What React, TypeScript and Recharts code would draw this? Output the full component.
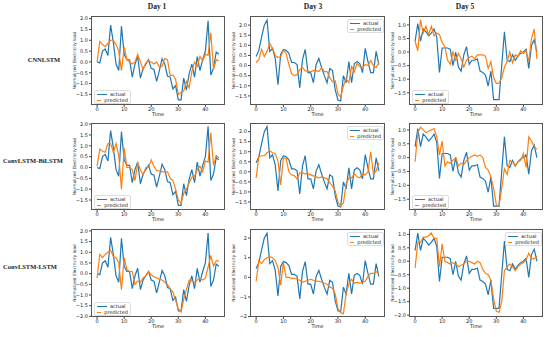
import React from 'react'
import { LineChart, Line, XAxis, YAxis, Label } from 'recharts'

// time index 0..45
const TIME = Array.from({ length: 46 }, (_, i) => i)
const X_TICKS = [0, 10, 20, 30, 40]

const DAYS = ['Day 1', 'Day 3', 'Day 5']
const MODELS = ['CNNLSTM', 'ConvLSTM-BiLSTM', 'ConvLSTM-LSTM']

// actual load (same for every model)
const DAY1_ACTUAL = [0.0, -0.05, 0.5, 0.6, 0.3, 1.7, 0.9, -0.1, -0.4, 1.65, 0.35, 0.1, 0.1, -0.7, -0.1, 0.25, -0.75, -0.3, -0.1, 0.1, -0.3, -0.35, -0.9, -0.4, 0.15, -0.1, -0.65, -0.7, -1.25, -1.1, -1.75, -1.75, -0.75, -1.3, -0.55, -0.1, -0.7, 0.25, -0.4, 0.1, 0.5, 1.9, -0.6, -0.3, 0.45, 0.35]
const DAY3_ACTUAL = [0.45, 0.75, 1.4, 2.0, 2.25, 0.7, 0.85, 0.35, -0.95, 0.55, 0.8, 0.75, 0.6, 0.15, 0.15, 0.05, -1.1, 0.3, 0.8, -0.35, -0.35, -0.85, 0.05, 0.35, -0.1, -0.5, -0.85, -0.15, -0.25, -1.2, -1.7, -1.75, -0.5, -0.85, 0.2, -0.85, 0.1, 0.2, 0.1, -0.35, 0.85, 0.2, -0.35, -0.35, 0.7, 0.05]
const DAY5_ACTUAL = [0.4, 1.05, 0.4, 0.85, 0.75, 0.6, 0.7, 0.85, 0.55, -0.75, 0.15, 0.15, 0.15, 0.1, -0.5, 0.0, -0.55, -0.7, -0.1, 0.2, -0.45, -0.3, -0.3, -0.25, -0.7, -0.75, -0.85, -1.25, -0.7, -1.75, -1.75, -1.75, -0.5, 0.75, -0.3, -0.35, -0.1, -0.3, -0.15, -0.05, 0.0, 0.1, -0.6, 0.25, 0.45, 0.0]

// predictions
const CNN_DAY1 = [0.0, 0.95, 0.8, 0.7, 0.85, 1.0, 1.0, 0.8, 0.5, -0.4, 0.7, 0.1, 0.0, -0.1, 0.0, 0.35, 0.0, -0.35, -0.05, 0.05, 0.0, -0.1, 0.0, -0.25, -0.2, 0.15, 0.1, -0.65, -0.6, -0.8, -1.5, -1.4, -1.35, -0.9, -1.2, -0.45, 0.0, -0.2, 0.25, 0.05, 0.35, 0.3, 1.35, -0.35, 0.1, 0.05]
const CNN_DAY3 = [0.15, 0.3, 0.8, 0.45, 0.7, 1.1, 0.85, 0.5, 0.4, 0.45, 0.75, 0.6, 0.05, -0.4, -0.5, -0.45, -0.2, -0.1, -0.25, -0.3, -0.3, -0.25, -0.25, -0.3, -0.1, -0.3, -0.3, -0.6, -0.8, -0.75, -1.4, -1.55, -1.0, -0.65, -0.85, -0.05, -0.3, 0.1, -0.05, -0.1, 0.05, 0.0, 0.25, 0.0, -0.1, 0.15]
const CNN_DAY5 = [0.4, 0.05, 1.2, 0.7, 0.95, 0.65, 0.95, 0.6, 0.7, 0.65, 0.35, 0.2, -0.3, -0.45, 0.0, -0.3, -0.05, -0.25, -0.55, -0.3, -0.2, -0.15, -0.25, -0.1, -0.1, -0.1, -0.15, -0.6, -0.35, -0.95, -1.15, -1.15, -0.95, -0.55, -0.35, 0.0, -0.4, -0.1, -0.15, 0.05, -0.05, 0.05, -0.35, 0.5, 0.85, -0.25]

const BI_DAY1 = [0.05, 0.85, 0.75, 0.7, 1.1, 1.1, 0.7, 1.1, 0.55, -1.0, 0.9, 0.0, 0.0, -0.1, -0.6, 0.2, -0.1, -0.35, 0.0, 0.0, 0.35, 0.05, -0.15, -0.15, -0.2, -0.2, -0.2, -0.5, -0.6, -1.0, -1.5, -1.65, -1.2, -1.0, -0.7, -0.45, -0.4, -0.1, 0.05, -0.2, 0.3, 0.25, 1.6, 0.1, 0.55, 0.45]
const BI_DAY3 = [-0.3, 0.75, 0.8, 0.8, 0.95, 1.05, 0.95, 0.9, 0.55, -0.65, 0.7, 0.65, 0.0, -0.15, -0.2, -0.35, -0.05, -0.05, -0.1, -0.1, -0.15, -0.2, -0.25, -0.3, -0.25, -0.3, -0.35, -0.55, -0.7, -0.95, -1.5, -1.7, -1.55, -0.6, -0.3, -0.3, -0.1, -0.25, -0.3, -0.1, -0.15, 0.0, 1.0, -0.1, 0.05, 0.45]
const BI_DAY5 = [-0.15, 0.9, 1.1, 1.0, 0.9, 0.95, 1.0, 1.05, 0.75, 0.1, 0.6, -0.3, -0.15, -0.2, -0.1, 0.0, -0.3, -0.2, -0.25, -0.1, 0.0, 0.05, 0.1, 0.05, 0.1, 0.0, -0.35, -0.45, -0.7, -1.1, -1.7, -1.75, -1.1, -0.4, -0.6, -0.1, -0.15, -0.3, -0.15, -0.1, 0.15, -0.35, 0.75, 0.6, 0.4, 0.3]

const LSTM_DAY1 = [-0.2, 0.9, 0.75, 0.9, 1.0, 1.1, 0.8, 0.75, 0.5, -0.75, 0.75, 0.2, 0.1, 0.1, -0.5, -0.35, -0.4, -0.2, -0.1, 0.1, -0.05, -0.15, -0.2, -0.25, -0.3, -0.4, -0.5, -0.7, -0.85, -1.25, -1.65, -1.8, -1.2, -0.75, -0.3, -0.35, -0.4, -0.3, -0.25, -0.3, -0.2, 0.3, 0.85, 0.35, 0.6, 0.6]
const LSTM_DAY3 = [-0.2, 0.85, 0.7, 0.9, 1.0, 1.05, 1.0, 0.85, 0.5, -0.4, 0.75, 0.0, 0.0, -0.05, -0.05, -0.1, -0.15, -0.25, -0.2, -0.15, -0.1, -0.15, -0.2, -0.2, -0.25, -0.3, -0.35, -0.5, -0.55, -0.85, -1.6, -1.8, -1.85, -0.8, -0.35, -0.1, -0.3, -0.25, -0.3, -0.25, -0.2, 0.05, 0.2, 0.2, 0.3, 0.15]
const LSTM_DAY5 = [-0.25, 0.7, 0.7, 0.9, 0.9, 0.95, 1.05, 0.85, 0.85, -0.2, 0.65, 0.0, -0.05, -0.1, -0.05, -0.1, -0.2, -0.15, -0.1, 0.0, 0.0, -0.05, -0.1, 0.0, -0.05, -0.3, -0.45, -0.5, -0.7, -1.4, -1.85, -1.9, -1.5, -0.35, -0.2, -0.1, -0.2, -0.35, -0.2, -0.1, -0.05, 0.05, 0.3, 0.1, 0.1, 0.2]

const ACTUAL = [DAY1_ACTUAL, DAY3_ACTUAL, DAY5_ACTUAL]
const PRED = [
  [CNN_DAY1, CNN_DAY3, CNN_DAY5],
  [BI_DAY1, BI_DAY3, BI_DAY5],
  [LSTM_DAY1, LSTM_DAY3, LSTM_DAY5],
]

const T_HALF = [-1.5, -1, -0.5, 0, 0.5, 1, 1.5, 2]
const T_HALF5 = [-1.5, -1, -0.5, 0, 0.5, 1]

// layout
const COLS = [{ left: 91, width: 134 }, { left: 250, width: 135 }, { left: 409, width: 134 }]
const ROWS = [{ top: 16, height: 89 }, { top: 123, height: 87 }, { top: 229, height: 88 }]
const Y_SETUP = [
  [
    { domain: [-1.99, 2.12], ticks: T_HALF, dec: 1 },
    { domain: [-1.95, 2.45], ticks: T_HALF, dec: 1 },
    { domain: [-1.95, 1.33], ticks: T_HALF5, dec: 1 },
  ],
  [
    { domain: [-1.96, 2.05], ticks: T_HALF, dec: 1 },
    { domain: [-1.9, 2.43], ticks: T_HALF, dec: 1 },
    { domain: [-1.89, 1.25], ticks: T_HALF5, dec: 1 },
  ],
  [
    { domain: [-2.03, 2.09], ticks: [-2, ...T_HALF], dec: 1 },
    { domain: [-2.02, 2.46], ticks: [-2, -1, 0, 1, 2], dec: 0 },
    { domain: [-2.07, 1.2], ticks: [-2, ...T_HALF5], dec: 1 },
  ],
]
const LEGEND_POS = [
  ['ll', 'ur', 'll'],
  ['ll', 'ur', 'll'],
  ['ll', 'ur', 'ur'],
]
const TITLE_X = [157, 313, 465]
const MODEL_POS = [{ x: 44, y: 60 }, { x: 33, y: 161 }, { x: 30, y: 267 }]

const BLUE = '#1f77b4'
const ORANGE = '#ff7f0e'
const SANS = 'DejaVu Sans, sans-serif'
const SERIF = 'Liberation Serif, serif'

function LegendBox({ pos, w, h }: { pos: string; w: number; h: number }) {
  const style: React.CSSProperties = {
    position: 'absolute',
    width: 37,
    height: 14,
    border: '1px solid #ddd',
    borderRadius: 2,
    background: 'rgba(255,255,255,0.85)',
    boxSizing: 'border-box',
    fontFamily: SANS,
    fontSize: 5,
    color: '#222',
    padding: '1px 2px',
    lineHeight: '5.8px',
  }
  if (pos === 'll') {
    style.left = 2
    style.top = h - 16
  } else {
    style.left = w - 39
    style.top = 2
  }
  return (
    <div style={style}>
      {[['actual', BLUE], ['predicted', ORANGE]].map(([name, color]) => (
        <div key={name} style={{ display: 'flex', alignItems: 'center', height: 5.8 }}>
          <span style={{ display: 'inline-block', width: 10, height: 1.2, background: color, marginRight: 3 }} />
          <span>{name}</span>
        </div>
      ))}
    </div>
  )
}

function Panel({ r, c }: { r: number; c: number }) {
  const col = COLS[c]
  const row = ROWS[r]
  const ys = Y_SETUP[r][c]
  const data = TIME.map((t, i) => ({ t, actual: ACTUAL[c][i], predicted: PRED[r][c][i] }))
  const ML = 30
  const MT = 4
  const MR = 4
  const XH = 18
  const fmt = (v: number) => (v < 0 ? '\u2212' : '') + Math.abs(v).toFixed(ys.dec)

  return (
    <div style={{ position: 'absolute', left: col.left - ML, top: row.top - MT }}>
      <LineChart
        width={col.width + ML + MR}
        height={row.height + MT + XH}
        data={data}
        margin={{ top: MT, right: MR, left: 0, bottom: 0 }}
      >
        <XAxis
          dataKey="t"
          type="number"
          domain={[-2.25, 47.25]}
          ticks={X_TICKS}
          allowDataOverflow
          height={XH}
          axisLine={false}
          tickSize={2}
          tickMargin={0.5}
          interval={0}
          stroke="#444"
          tick={{ fontSize: 5, fill: '#222', fontFamily: SANS }}
        >
          <Label
            content={() => (
              <text
                x={ML + col.width / 2}
                y={MT + row.height + 11}
                textAnchor="middle"
                fontSize={5}
                fill="#222"
                fontFamily={SANS}
              >
                Time
              </text>
            )}
          />
        </XAxis>
        <YAxis
          type="number"
          domain={ys.domain}
          ticks={ys.ticks}
          allowDataOverflow
          width={ML}
          axisLine={false}
          tickSize={2}
          tickMargin={1}
          interval={0}
          stroke="#444"
          tickFormatter={fmt}
          tick={{ fontSize: 5, fill: '#222', fontFamily: SANS }}
        >
          <Label
            content={() => {
              const x = ML - 16
              const y = MT + row.height / 2
              return (
                <text
                  x={x}
                  y={y}
                  transform={`rotate(-90 ${x} ${y})`}
                  textAnchor="middle"
                  dominantBaseline="middle"
                  fontSize={4.3}
                  fill="#222"
                  fontFamily={SANS}
                >
                  Normalized Electricity load
                </text>
              )
            }}
          />
        </YAxis>
        <Line type="linear" dataKey="actual" stroke={BLUE} strokeWidth={1.2} dot={false} isAnimationActive={false} />
        <Line type="linear" dataKey="predicted" stroke={ORANGE} strokeWidth={1.2} dot={false} isAnimationActive={false} />
      </LineChart>
      <div
        style={{
          position: 'absolute',
          left: ML,
          top: MT,
          width: col.width,
          height: row.height,
          border: '1px solid #555',
          boxSizing: 'border-box',
          pointerEvents: 'none',
        }}
      >
        <LegendBox pos={LEGEND_POS[r][c]} w={col.width} h={row.height} />
      </div>
    </div>
  )
}

export default function App() {
  return (
    <div style={{ position: 'absolute', left: 0, top: 0, width: 550, height: 337, background: '#fff', overflow: 'hidden' }}>
      {DAYS.map((d, c) => (
        <div
          key={d}
          style={{
            position: 'absolute',
            left: TITLE_X[c] - 30,
            width: 60,
            top: 2,
            textAlign: 'center',
            fontFamily: SERIF,
            fontWeight: 'bold',
            fontSize: 7.5,
            lineHeight: '10px',
            color: '#222',
          }}
        >
          {d}
        </div>
      ))}
      {MODELS.map((m, r) => (
        <div
          key={m}
          style={{
            position: 'absolute',
            left: MODEL_POS[r].x - 40,
            width: 80,
            top: MODEL_POS[r].y - 5,
            textAlign: 'center',
            fontFamily: SERIF,
            fontWeight: 'bold',
            fontSize: 6.5,
            lineHeight: '10px',
            color: '#222',
          }}
        >
          {m}
        </div>
      ))}
      {[0, 1, 2].map((r) => [0, 1, 2].map((c) => <Panel key={`${r}-${c}`} r={r} c={c} />))}
    </div>
  )
}
